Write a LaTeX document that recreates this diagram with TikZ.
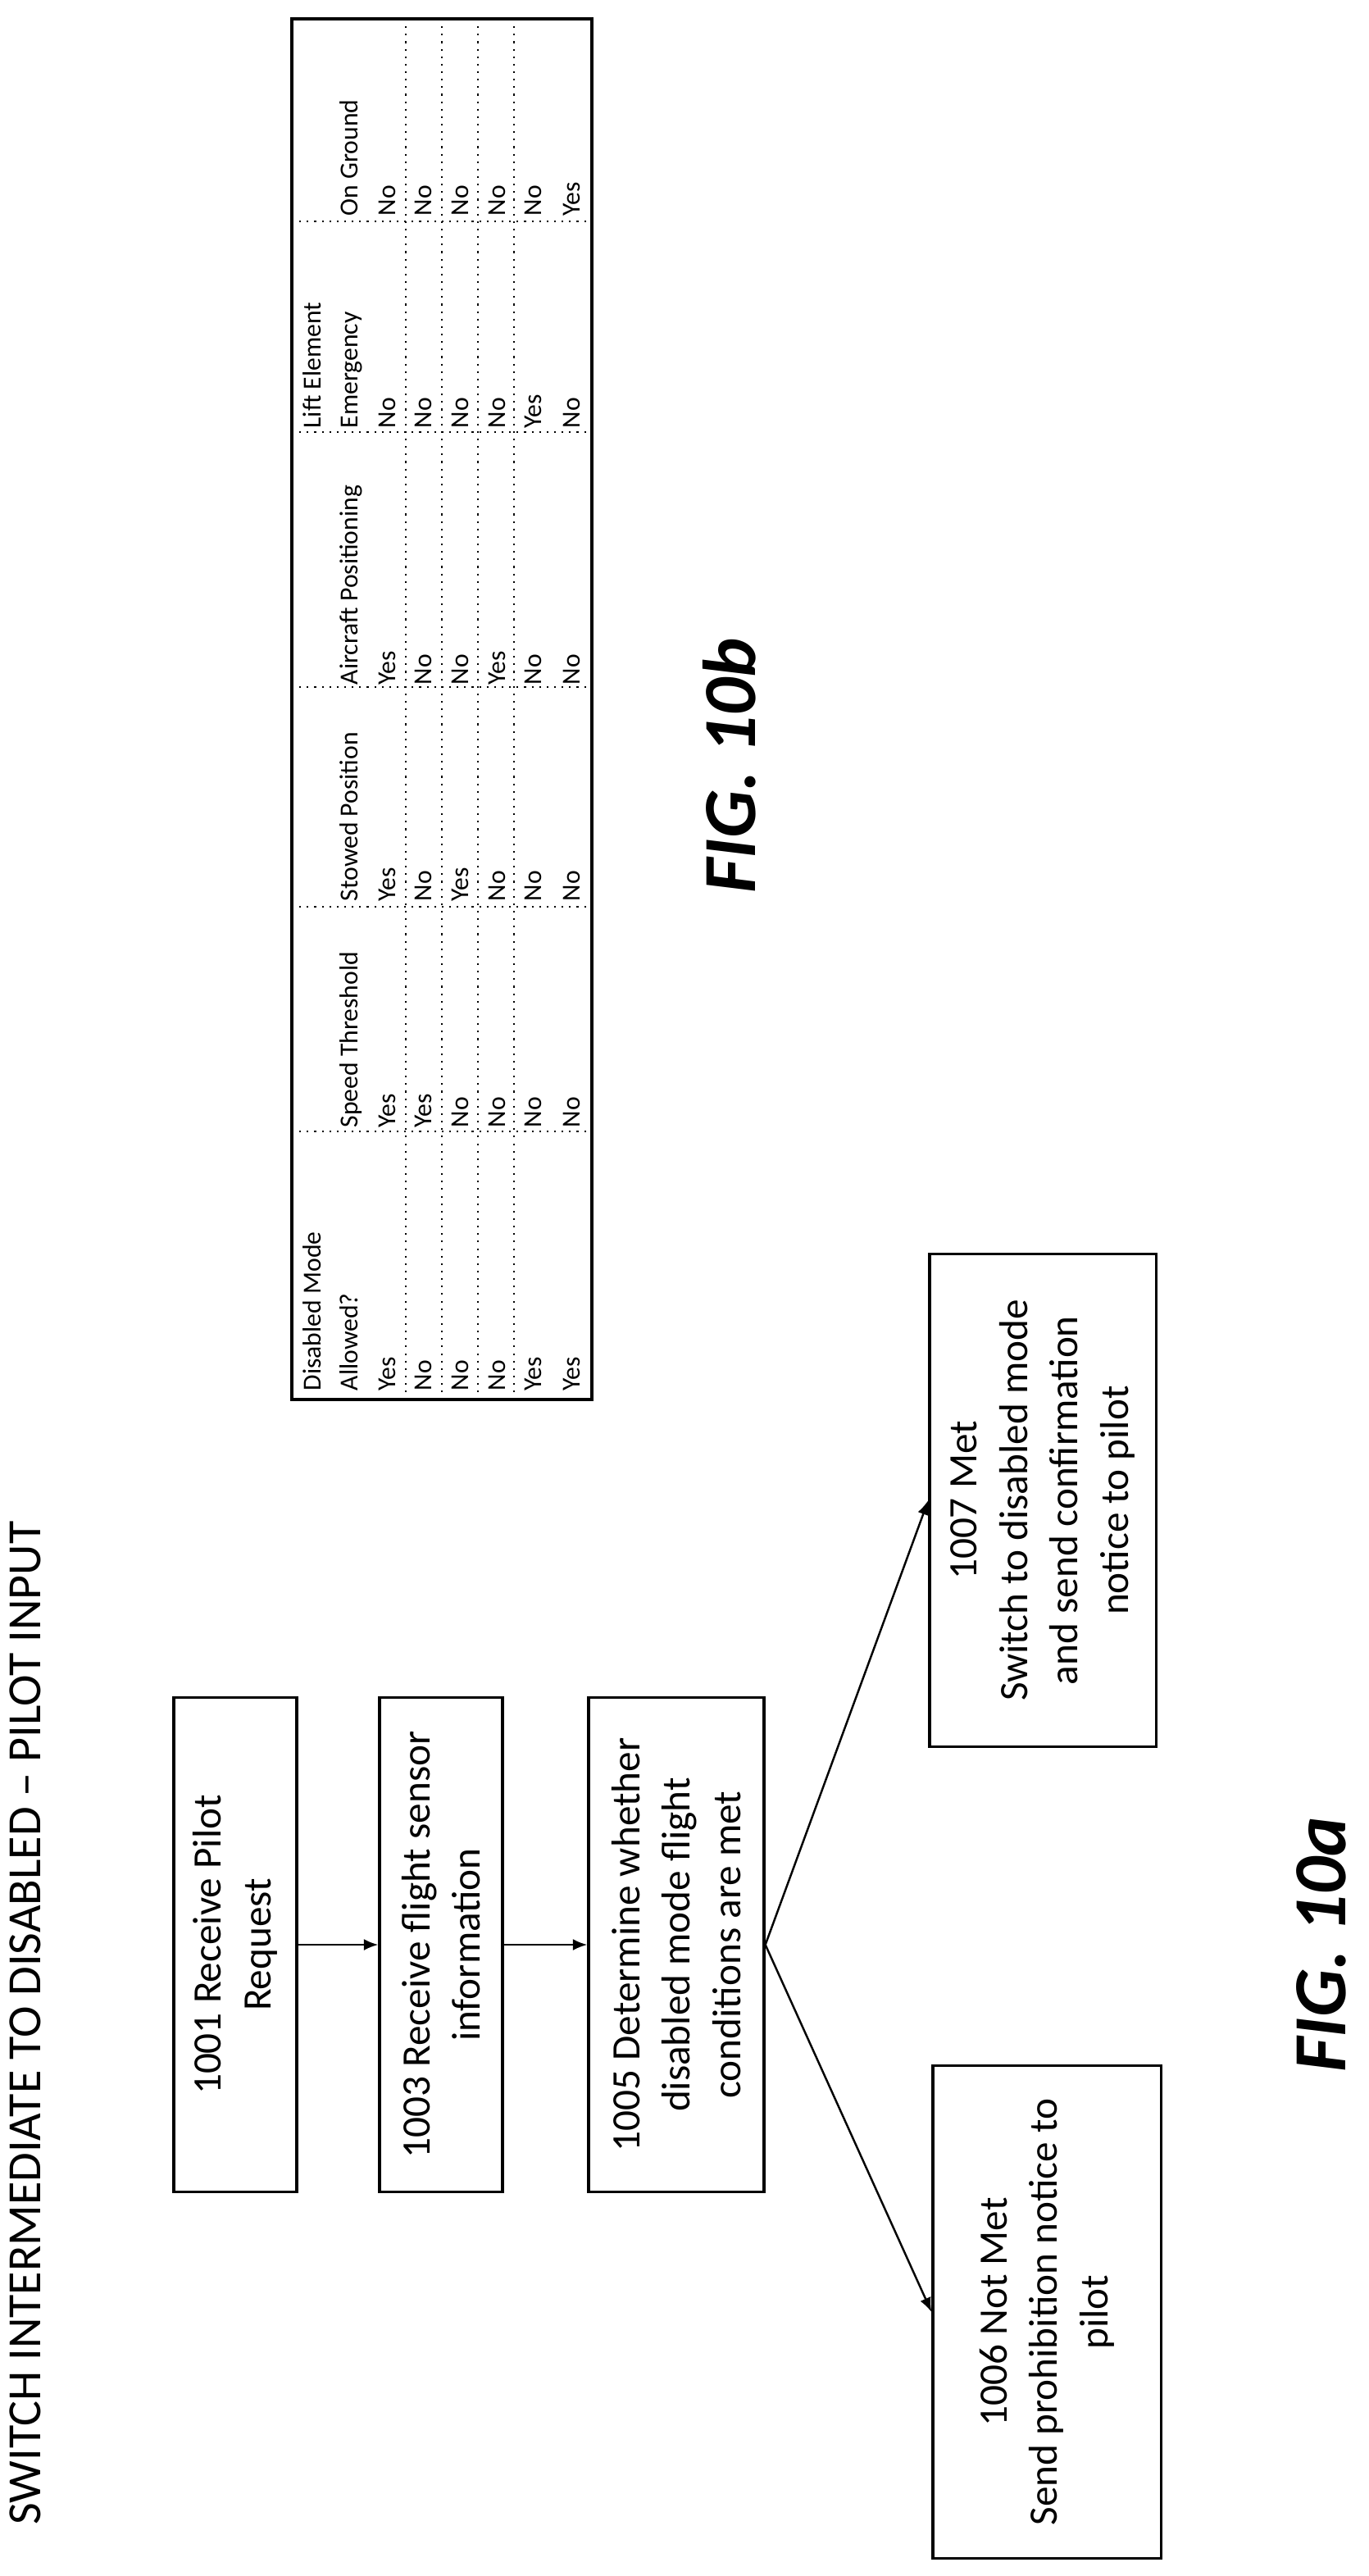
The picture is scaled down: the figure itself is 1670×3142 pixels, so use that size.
\documentclass[tikz,border=0pt]{standalone}
\usepackage{fontspec}
\setmainfont{Carlito}
\usepackage{tikz}
\usetikzlibrary{positioning,arrows.meta}

\tikzset{
  stepbox/.style = {draw, line width = 0.9pt, rotate = 90, align = center, inner sep = 2pt,
                    font = \fontsize{14}{17.5}\selectfont},
  cell/.style = {rotate = 90, anchor = mid west, inner sep = 0pt, font = \fontsize{9}{10}\selectfont},
  flow/.style = {line width = 0.7pt, -{Latex[length = 5pt, width = 4pt]}}
}

\begin{document}
\begin{tikzpicture}[x = 0.01cm, y = -0.01cm]
\useasboundingbox (0,0) rectangle (1670,3142);
\node[rotate = 90, anchor = mid west, inner sep = 0pt, font = \fontsize{16.5}{19}\selectfont] (title) at (41,3080)
  {SWITCH INTERMEDIATE TO DISABLED -- PILOT INPUT};
% flow chart (fig 10a)
\node[stepbox, minimum width = 6.03cm, minimum height = 1.5cm] (1001) at (287,2372) {1001 Receive Pilot\\Request};
\node[stepbox, minimum width = 6.03cm, minimum height = 1.5cm] (1003) at (538,2372) {1003 Receive flight sensor\\information};
\node[stepbox, minimum width = 6.03cm, minimum height = 2.14cm] (1005) at (825,2372) {1005 Determine whether\\disabled mode flight\\conditions are met};
\node[stepbox, minimum width = 6.00cm, minimum height = 2.78cm] (1006) at (1277,2820) {1006 Not Met\\Send prohibition notice to\\pilot};
\node[stepbox, minimum width = 6.01cm, minimum height = 2.76cm] (1007) at (1272,1830) {1007 Met\\Switch to disabled mode\\and send confirmation\\notice to pilot};
\draw[flow] (1001.south) -- (1003.north);
\draw[flow] (1003.south) -- (1005.north);
\draw[flow] (1005.south) -- (1006.north);
\draw[flow] (1005.south) -- (1007.north);
\node[rotate = 90, font = \fontsize{26}{28}\selectfont\bfseries\itshape] (fig10a) at (1612,2372) {FIG. 10a};
% table (fig 10b)
\draw[line width = 1pt] (356,23) rectangle (722,1707);
\foreach \rx in {495,539,583,627}
  \draw[dotted, line width = 0.6pt] (\rx,23) -- (\rx,1707);
\foreach \cy in {1380,1106,838,527,270}
  \draw[dotted, line width = 0.6pt] (356,\cy) -- (722,\cy);
\node[cell] at (383,1697) {Disabled Mode};
\node[cell] at (428,1697) {Allowed?};
\node[cell] at (428,1376) {Speed Threshold};
\node[cell] at (428,1100) {Stowed Position};
\node[cell] at (428,836) {Aircraft Positioning};
\node[cell] at (383,523) {Lift Element};
\node[cell] at (428,523) {Emergency};
\node[cell] at (428,264) {On Ground};
\foreach \rx/\a/\b/\c/\d/\e/\f in {474/Yes/Yes/Yes/Yes/No/No, 518/No/Yes/No/No/No/No,
    563/No/No/Yes/No/No/No, 608/No/No/No/Yes/No/No, 652/Yes/No/No/No/Yes/No, 699/Yes/No/No/No/No/Yes}{
  \node[cell] at (\rx,1697) {\a};
  \node[cell] at (\rx,1376) {\b};
  \node[cell] at (\rx,1100) {\c};
  \node[cell] at (\rx,836) {\d};
  \node[cell] at (\rx,523) {\e};
  \node[cell] at (\rx,264) {\f};
}
\node[rotate = 90, font = \fontsize{26}{28}\selectfont\bfseries\itshape] (fig10b) at (890,934) {FIG. 10b};
\end{tikzpicture}
\end{document}
